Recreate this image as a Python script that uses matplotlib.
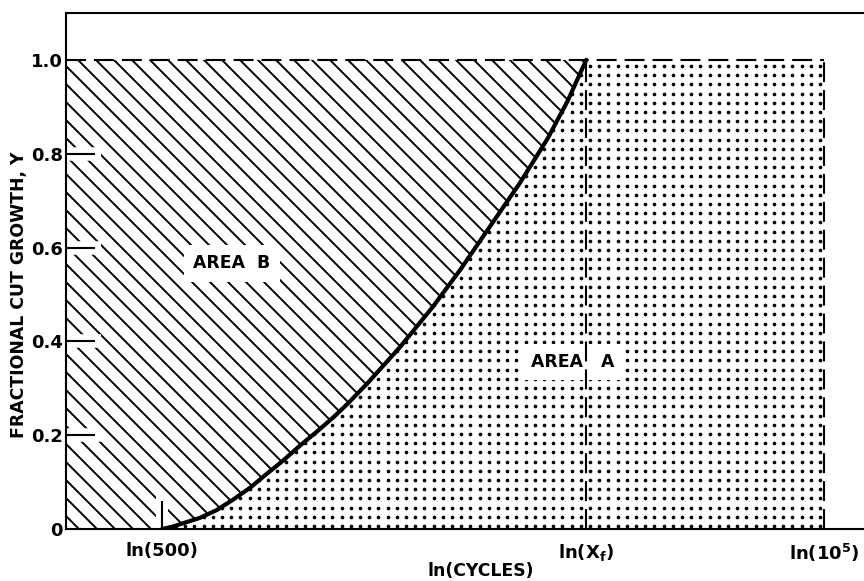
import numpy as np
import matplotlib
matplotlib.use("Agg")
import matplotlib.pyplot as plt

# ---- data -------------------------------------------------------------
# cut-growth curve: ln(cycles) vs fractional cut growth Y
ln_cycles = [6.215, 6.30, 6.38, 6.52, 6.65, 6.78, 6.92, 7.05, 7.18, 7.32,
             7.46, 7.59, 7.70, 7.86, 8.12, 8.38, 8.60, 8.78, 9.08, 9.30,
             9.46, 9.61]
growth = [0.0, 0.005, 0.012, 0.024, 0.040, 0.062, 0.088, 0.117, 0.145, 0.178,
          0.209, 0.239, 0.267, 0.311, 0.388, 0.473, 0.552, 0.622, 0.738, 0.832,
          0.912, 1.0]

ln_500 = np.log(500.0)
ln_xf = 9.61                      # ln(X_f), cycles at full cut growth
ln_1e5 = np.log(1.0e5)

x_ticks = [ln_500, ln_xf, ln_1e5]
x_tick_labels = ["ln(500)", r"ln(X$_\mathbf{f}$)", r"ln(10$^\mathbf{5}$)"]
y_ticks = [0.0, 0.2, 0.4, 0.6, 0.8, 1.0]
y_tick_labels = ["0", "0.2", "0.4", "0.6", "0.8", "1.0"]

# ---- style ------------------------------------------------------------
plt.rcParams["font.family"] = ["DejaVu Sans"]
plt.rcParams["font.weight"] = "bold"
plt.rcParams["mathtext.fontset"] = "dejavusans"
plt.rcParams["hatch.linewidth"] = 1.3
plt.rcParams["hatch.color"] = "black"

DPI = 108
fig = plt.figure(figsize=(864 / DPI, 581 / DPI), dpi=DPI)
ax = fig.add_axes([66 / 864, 1 - 529 / 581, 1 - 66 / 864, (529 - 13) / 581])

x_min, x_max = 5.446, 11.833
ax.set_xlim(x_min, x_max)
ax.set_ylim(0, 1.1)

y_curve = np.array(growth)
x_curve = np.array(ln_cycles)

# AREA B: diagonal hatching left of the curve
ax.fill_betweenx(y_curve, x_min, x_curve, facecolor="white", edgecolor="black",
                 hatch="\\\\", linewidth=0, zorder=1)

# AREA A: dot screen between the curve and ln(1e5)
area_a = ax.fill_betweenx(y_curve, x_curve, ln_1e5, facecolor="white",
                          edgecolor="none", linewidth=0, zorder=1)
px_x = (x_max - x_min) / 798.0     # data units per pixel
px_y = 1.1 / 516.0
step = 9.2
gx = np.arange(ln_1e5 - 4 * px_x, x_min, -step * px_x)
gy = np.arange(1.0 - 6 * px_y, 0.0, -step * px_y)
GX, GY = np.meshgrid(gx, gy)
dots = ax.scatter(GX.ravel(), GY.ravel(), s=6, color="black",
                  linewidths=0, zorder=1.2)
dots.set_clip_path(area_a.get_paths()[0], ax.transData)

# cleared strips around the inward tick marks
for t in y_ticks[1:-1]:
    ax.plot([x_min, x_min + 0.28], [t, t], color="white", lw=9,
            solid_capstyle="butt", zorder=1.5)
ax.plot([ln_500, ln_500], [0, 0.07], color="white", lw=8,
        solid_capstyle="butt", zorder=1.5)

# boundaries
dash = (0, (9.5, 3.8))
ax.plot([x_min, ln_1e5], [1, 1], color="black", lw=1.4, linestyle=dash, zorder=4)
ax.vlines([ln_xf, ln_1e5], 0, 1, colors="black", lw=1.4, linestyles=[dash], zorder=4)

# the curve itself
ax.plot(x_curve, y_curve, color="black", lw=2.8, solid_capstyle="round",
        solid_joinstyle="round", zorder=5)

# area labels
box = dict(boxstyle="square,pad=0.55", facecolor="white", edgecolor="none")
ax.text(6.775, 0.567, "AREA  B", fontsize=11.5, fontweight="bold",
        ha="center", va="center", bbox=box, zorder=3)
ax.text(9.504, 0.356, "AREA   A", fontsize=11.5, fontweight="bold",
        ha="center", va="center", bbox=box, zorder=3)

# axes frame
ax.spines["right"].set_visible(False)
for s in ("left", "top", "bottom"):
    ax.spines[s].set_linewidth(1.4)

ax.set_xticks(x_ticks)
ax.set_xticklabels(x_tick_labels)
ax.set_yticks(y_ticks)
ax.set_yticklabels(y_tick_labels)
ax.tick_params(axis="x", direction="in", length=19, width=1.4, pad=8.5,
               labelsize=12)
ax.tick_params(axis="y", direction="in", length=19, width=1.4, pad=2,
               labelsize=12)
for lbl in ax.get_xticklabels() + ax.get_yticklabels():
    lbl.set_fontweight("bold")

# tick lines only where no boundary line already marks the value
xt = ax.xaxis.get_major_ticks()
xt[1].tick1line.set_visible(False)
xt[2].tick1line.set_visible(False)
yt = ax.yaxis.get_major_ticks()
yt[0].tick1line.set_visible(False)
yt[-1].tick1line.set_visible(False)

ax.set_xlabel("ln(CYCLES)", fontsize=11.5, fontweight="bold", va="center")
ax.xaxis.set_label_coords((481 - 66) / 798, (529 - 571) / 516)
ax.set_ylabel("FRACTIONAL CUT GROWTH, Y", fontsize=11.5, fontweight="bold",
              va="center")
ax.yaxis.set_label_coords(-(66 - 19) / 798, (529 - 295) / 516)

fig.savefig("out.png", dpi=DPI)
